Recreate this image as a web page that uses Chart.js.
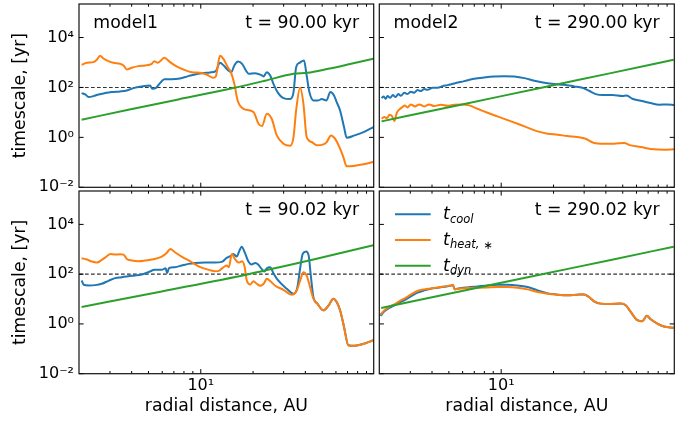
<!DOCTYPE html>
<html>
<head>
<meta charset="utf-8">
<script src="https://cdn.jsdelivr.net/npm/chart.js@4.4.1/dist/chart.umd.min.js"></script>
<style>
html, body { margin: 0; padding: 0; background: #fff; }
#wrap { position: relative; width: 692px; height: 425px; }
#wrap canvas { position: absolute; left: 0; top: 0; }
</style>
</head>
<body>
<div id="wrap">
  <canvas id="c1" width="692" height="425"></canvas>
  <canvas id="c2" width="692" height="425"></canvas>
  <canvas id="c3" width="692" height="425"></canvas>
  <canvas id="c4" width="692" height="425"></canvas>
</div>
<script>
// axis ranges / ticks
const xMin = 1.99, xMax = 99;
const yMin = 0.01, yMax = 2.2e5;
const yTicks = [1e-2, 1, 1e2, 1e4];
const xMajor = [10];
const xMinor = [3, 4, 5, 6, 7, 8, 9, 20, 30, 40, 50, 60, 70, 80, 90];
const refLevel = 100;

const seriesLabels = ['t_cool', 't_heat,∗', 't_dyn'];
const panelNames = ['model1', 'model2', '', ''];
const panelTimes = ['t = 90.00 kyr', 't = 290.00 kyr', 't = 90.02 kyr', 't = 290.02 kyr'];

// model1, t = 90.00 kyr
const p1CoolR = [2.06,2.16,2.26,2.41,2.58,2.81,3.07,3.43,3.75,4.09,4.57,5.10,5.26,5.50,5.83,6.17,6.80,7.42,8.48,9.67,11.3,12.2,12.9,13.6,14.4,15.0,15.6,16.4,17.3,18.2,18.9,20.5,22.2,23.0,24.0,25.1,26.2,27.9,29.7,32.7,34.2,35.4,37.0,39.3,40.7,42.2,44.5,47.4,49.7,52.9,55.7,58.5,60.6,63.4,66.8,69.2,76.9,87.8,98.5];
const p1CoolT = [59.3,52.5,41.1,45.0,52.5,59.3,65.1,69.2,75.9,94.1,110,120,88.4,94.1,149,215,215,222,284,352,398,450,970,736,479,410,759,1096,885,479,352,374,321,275,410,302,140,59.3,38.6,34.2,65.1,650,970,1202,302,65.1,30.2,30.2,34.2,30.2,65.1,47.9,25.9,12.0,2.59,0.97,1.20,1.69,2.59];
const p1HeatR = [2.06,2.21,2.41,2.52,2.63,2.75,2.94,3.14,3.43,3.59,3.75,4.00,4.37,4.78,5.22,5.40,5.65,6.17,6.65,7.26,7.93,8.86,9.89,10.8,11.8,12.2,12.9,13.5,14.3,14.9,15.6,16.3,17.6,20.1,21.5,22.5,24.0,25.6,27.4,29.9,32.7,34.2,35.4,37.3,39.0,40.7,43.5,46.5,50.8,53.1,56.2,59.3,63.4,66.2,69.2,75.6,86.3,98.5];
const p1HeatT = [807,970,1031,1279,1848,1445,1130,970,885,759,525,612,714,759,885,1130,970,1537,1031,692,525,410,386,331,244,275,1848,1402,650,410,140,30.2,14.0,10.3,3.52,2.84,8.85,5.58,1.20,0.558,0.464,1.03,12.0,97,22.2,1.03,0.65,0.479,0.525,0.65,1.20,0.885,0.352,0.163,0.0692,0.0714,0.0832,0.103];
const p1DynR = [2.06,3.83,7.42,15.4,23.4,34.2,41.1,54.1,69.2,98.5];
const p1DynT = [5.09,12.8,33.1,94.1,185,352,386,558,807,1402];

// model2, t = 290.00 kyr
const p2CoolR = [2.05,2.11,2.16,2.22,2.30,2.38,2.47,2.56,2.65,2.77,2.89,3.02,3.16,3.30,3.45,3.61,3.77,4.03,4.31,4.60,4.91,5.37,6.13,6.99,7.98,9.11,10.4,11.9,13.6,15.5,17.7,20.2,23.0,26.3,29.3,32.0,35.0,38.2,43.6,49.8,52.7,56.8,63.5,72.4,80.9,90.3,98.6];
const p2CoolT = [37.4,43.7,35.2,45.0,38.6,49.4,41.1,54.1,46.4,61.2,54.1,67.1,61.2,78.2,71.3,85.8,80.7,97,97,113,124,145,179,222,251,275,284,275,236,185,154,136,128,110,97,73.6,54.1,49.4,49.4,45.0,47.9,35.2,29.3,23.6,20.3,20.9,19.7];
const p2HeatR = [2.05,2.13,2.20,2.28,2.36,2.43,2.51,2.60,2.70,2.79,2.89,3.02,3.19,3.38,3.61,3.85,4.12,4.50,4.91,5.37,6.00,6.54,7.31,8.34,9.52,11.4,13.6,16.2,18.5,21.1,24.0,27.4,30.6,33.9,39.1,44.6,50.9,55.6,63.5,75.7,86.4,98.6];
const p2HeatT = [5.58,6.5,5.93,8.07,6.92,4.5,9.7,13.2,16.3,19.1,15.8,20.9,17.4,20.9,17.4,20.9,17.9,20.3,18.5,20.3,20.9,19.1,14.0,9.7,6.92,4.37,2.75,1.74,1.40,1.28,1.13,1.03,0.885,0.612,0.558,0.558,0.593,0.479,0.41,0.331,0.321,0.331];
const p2DynR = [2.05,5.86,17.3,42.7,98.2];
const p2DynT = [4.37,20.3,100,374,1279];

// model1, t = 90.02 kyr
const p3CoolR = [2.06,2.12,2.26,2.47,2.69,2.94,3.21,3.51,3.83,4.18,4.57,4.99,5.45,5.96,6.28,6.39,6.56,7.10,7.76,8.48,9.26,10.6,12.1,13.2,14.1,15.0,15.4,16.1,16.7,17.2,17.9,18.8,19.6,20.6,21.4,22.4,23.2,24.0,25.1,26.2,27.9,31.3,34.2,36.0,37.3,38.6,40.4,41.8,43.0,44.5,46.9,50.8,54.5,58.0,60.6,63.4,66.8,70.7,76.9,87.8,98.5];
const p3CoolT = [55.8,37.4,35.2,36.3,41.1,54.1,69.2,75.9,83.2,88.4,97,120,149,149,174,110,174,191,222,259,284,293,293,311,450,558,650,509,885,1279,759,321,244,284,244,163,128,174,191,110,55.8,25.9,16.3,30.2,163,650,807,558,88.4,12.0,6.5,3.52,5.58,10.3,7.59,3.52,0.759,0.14,0.132,0.163,0.222];
const p3HeatR = [2.06,2.21,2.36,2.53,2.69,2.88,3.02,3.21,3.43,3.59,3.75,4.02,4.37,4.78,5.33,5.96,6.36,6.68,7.10,7.76,8.66,9.93,11.3,12.1,12.7,13.3,14.1,14.5,15.1,15.7,16.6,17.3,17.9,18.4,19.3,20.1,21.0,22.0,23.0,24.0,25.3,26.7,29.9,33.4,35.7,37.6,39.0,40.7,42.6,44.5,46.9,50.8,54.5,58.0,60.6,63.4,66.8,70.7,76.9,87.8,98.5];
const p3HeatT = [437,386,321,293,374,525,650,612,631,612,410,352,331,352,398,509,714,1031,759,509,331,191,145,132,136,174,222,191,650,410,293,331,191,55.8,38.6,52.5,41.1,34.2,41.1,65.1,50.9,35.2,23.6,14.9,22.2,65.1,120,88.4,30.2,10.3,6.5,3.52,5.58,10.3,7.59,3.52,0.759,0.14,0.132,0.163,0.222];
const p3DynR = [2.06,5.96,18.8,44.5,98.5];
const p3DynT = [4.79,20.3,100,386,1445];

// model2, t = 290.02 kyr
const p4CoolR = [2.02,2.13,2.27,2.43,2.59,2.77,3.02,3.30,3.61,3.94,4.31,4.70,5.13,5.27,5.41,5.61,6.40,7.31,8.34,9.52,10.9,12.4,14.2,16.2,18.5,21.1,24.0,27.4,30.0,32.0,34.2,37.4,42.7,48.7,52.0,55.6,60.7,64.9,68.7,72.4,79.1,86.4,98.2];
const p4CoolT = [2.11,3.24,4.4,5.62,7.18,8.9,12.9,18.0,22.3,26.0,28.5,31.2,34.2,36.4,24.5,26.0,29.4,32.2,35.3,37.5,37.5,35.3,30.3,22.3,16.9,15.0,14.1,15.0,15.4,12.1,8.12,6.55,6.36,6.55,5.62,3.05,1.42,1.29,2.11,1.55,1.04,0.79,0.70];
const p4HeatR = [2.02,2.13,2.27,2.43,2.59,2.77,3.02,3.30,3.61,3.94,4.31,4.70,5.13,5.27,5.41,5.61,6.40,7.31,8.34,9.52,10.9,12.4,14.2,16.2,18.5,21.1,24.0,27.4,30.0,32.0,34.2,37.4,42.7,48.7,52.0,55.6,60.7,64.9,68.7,72.4,79.1,86.4,98.2];
const p4HeatT = [2.39,3.55,4.83,6.17,8.12,10.4,15.0,21.0,24.5,26.8,29.4,32.2,35.3,37.5,24.5,26.0,27.6,28.5,29.4,30.3,30.3,28.5,24.5,19.1,16.4,15.0,14.1,15.0,15.4,12.1,8.12,6.55,6.36,6.55,5.62,3.05,1.42,1.29,2.11,1.55,1.04,0.79,0.70];
const p4DynR = [2.04,7.31,16.9,42.7,98.2];
const p4DynT = [4.4,28.5,97,373,1270];

const colors = ['#1f77b4', '#ff7f0e', '#2ca02c'];
const FONT = 'DejaVu Sans';
Chart.defaults.font.family = FONT;
Chart.defaults.color = '#000';

const panels = [
  { id: 'c1', box: [79, 4, 373.7, 187.3], showY: true, showX: false, legend: false,
    series: [[p1CoolR, p1CoolT], [p1HeatR, p1HeatT], [p1DynR, p1DynT]] },
  { id: 'c2', box: [379.3, 4, 674.3, 187.3], showY: false, showX: false, legend: false,
    series: [[p2CoolR, p2CoolT], [p2HeatR, p2HeatT], [p2DynR, p2DynT]] },
  { id: 'c3', box: [79, 191, 373.7, 373.7], showY: true, showX: true, legend: false,
    series: [[p3CoolR, p3CoolT], [p3HeatR, p3HeatT], [p3DynR, p3DynT]] },
  { id: 'c4', box: [379.3, 191, 674.3, 373.7], showY: false, showX: true, legend: true,
    series: [[p4CoolR, p4CoolT], [p4HeatR, p4HeatT], [p4DynR, p4DynT]] }
];

const SUP = {'-': '⁻', '0': '⁰', '1': '¹', '2': '²', '3': '³', '4': '⁴', '5': '⁵', '6': '⁶', '7': '⁷', '8': '⁸', '9': '⁹'};
function pow10(v) {
  const e = Math.round(Math.log10(v));
  return '10' + String(e).split('').map(c => SUP[c]).join('');
}

function zip(xs, ys) {
  const n = Math.min(xs.length, ys.length);
  const out = [];
  for (let i = 0; i < n; i++) out.push({ x: xs[i], y: ys[i] });
  return out;
}

function zeroPad(s) {
  s.paddingLeft = 0; s.paddingRight = 0; s.paddingTop = 0; s.paddingBottom = 0;
}

// frame, inward ticks, panel texts and the legend
const panelDecor = {
  id: 'panelDecor',
  afterDatasetsDraw(chart, args, opts) {
    const { ctx, chartArea: a } = chart;
    const x = chart.scales.x, y = chart.scales.y;
    ctx.save();
    ctx.strokeStyle = '#000';
    ctx.lineWidth = 1;
    ctx.beginPath();
    const xTick = (v, len) => {
      const p = x.getPixelForValue(v);
      ctx.moveTo(p, a.bottom); ctx.lineTo(p, a.bottom - len);
      ctx.moveTo(p, a.top); ctx.lineTo(p, a.top + len);
    };
    xMajor.forEach(v => xTick(v, 4.6));
    xMinor.forEach(v => xTick(v, 2.7));
    yTicks.forEach(v => {
      const p = y.getPixelForValue(v);
      ctx.moveTo(a.left, p); ctx.lineTo(a.left + 4.6, p);
      ctx.moveTo(a.right, p); ctx.lineTo(a.right - 4.6, p);
    });
    ctx.stroke();
    ctx.lineWidth = 1.2;
    ctx.strokeStyle = '#111';
    ctx.strokeRect(a.left, a.top, a.right - a.left, a.bottom - a.top);

    ctx.fillStyle = '#000';
    ctx.textBaseline = 'alphabetic';
    ctx.font = '17.3px "' + FONT + '"';
    if (opts.name) {
      ctx.textAlign = 'left';
      ctx.fillText(opts.name, a.left + 14.3, a.top + 24.3);
    }
    ctx.textAlign = 'right';
    ctx.fillText(opts.time, a.right - 14.6, a.top + 24.3);

    if (opts.legend) {
      const items = chart.data.datasets.filter(d => d.label);
      items.forEach((d, i) => {
        const yy = a.top + 23.3 + i * 25.7;
        ctx.strokeStyle = d.borderColor;
        ctx.lineWidth = 2;
        ctx.beginPath();
        ctx.moveTo(a.left + 15.7, yy);
        ctx.lineTo(a.left + 51.4, yy);
        ctx.stroke();
        const parts = d.label.split('_');
        ctx.textAlign = 'left';
        ctx.font = 'italic 17.3px "' + FONT + '"';
        let tx = a.left + 63.8;
        ctx.fillText(parts[0], tx, yy + 5);
        tx += ctx.measureText(parts[0]).width;
        const sub = parts[1] || '';
        const m = sub.match(/^(.*?)(∗?)$/);
        ctx.font = 'italic 11.5px "' + FONT + '"';
        ctx.fillText(m[1], tx, yy + 8.4);
        tx += ctx.measureText(m[1]).width;
        if (m[2]) {
          ctx.font = '11.5px "' + FONT + '"';
          ctx.fillText(m[2], tx + 4, yy + 9.2);
        }
      });
    }
    ctx.restore();
  }
};

panels.forEach((p, k) => {
  const [l, t, r, b] = p.box;
  // Chart.js paints higher "order" first: reference line, then cool, heat, dyn on top
  const datasets = [{
    data: [{ x: xMin, y: refLevel }, { x: xMax, y: refLevel }],
    borderColor: '#333',
    borderWidth: 1.1,
    borderDash: [3.7, 2.3],
    order: 10
  }];
  p.series.forEach((s, i) => {
    datasets.push({
      label: seriesLabels[i],
      data: zip(s[0], s[1]),
      borderColor: colors[i],
      borderWidth: 2,
      cubicInterpolationMode: 'monotone',
      order: 3 - i
    });
  });

  new Chart(document.getElementById(p.id), {
    type: 'line',
    data: { datasets },
    options: {
      responsive: false,
      animation: false,
      events: [],
      layout: {
        padding: { left: p.showY ? 0 : l, top: t, right: 692 - r, bottom: p.showX ? 0 : 425 - b }
      },
      elements: {
        point: { radius: 0 },
        line: { borderCapStyle: 'butt', borderJoinStyle: 'round' }
      },
      plugins: {
        legend: { display: false },
        tooltip: { enabled: false },
        panelDecor: { name: panelNames[k], time: panelTimes[k], legend: p.legend }
      },
      scales: {
        x: {
          type: 'logarithmic',
          position: 'bottom',
          min: xMin,
          max: xMax,
          afterBuildTicks: s => { s.ticks = xMajor.map(v => ({ value: v })); },
          afterFit: s => { s.height = p.showX ? 425 - b : 0; zeroPad(s); },
          grid: { display: false, drawTicks: false },
          border: { display: false },
          ticks: {
            display: p.showX,
            callback: v => pow10(v),
            font: { size: 16 },
            color: '#000',
            padding: 3,
            maxRotation: 0,
            autoSkip: false
          },
          title: {
            display: p.showX,
            text: 'radial distance, AU',
            font: { size: 17.3 },
            color: '#000',
            padding: { top: 0, bottom: 8.4 }
          }
        },
        y: {
          type: 'logarithmic',
          position: 'left',
          min: yMin,
          max: yMax,
          afterBuildTicks: s => { s.ticks = yTicks.map(v => ({ value: v })); },
          afterFit: s => { s.width = p.showY ? l : 0; zeroPad(s); },
          grid: { display: false, drawTicks: false },
          border: { display: false },
          ticks: {
            display: p.showY,
            callback: v => pow10(v),
            font: { size: 16 },
            color: '#000',
            padding: 5,
            autoSkip: false
          },
          title: {
            display: p.showY,
            text: 'timescale, [yr]',
            font: { size: 17.3 },
            color: '#000',
            padding: { top: 10, bottom: 0 }
          }
        }
      }
    },
    plugins: [panelDecor]
  });
});
</script>
</body>
</html>
